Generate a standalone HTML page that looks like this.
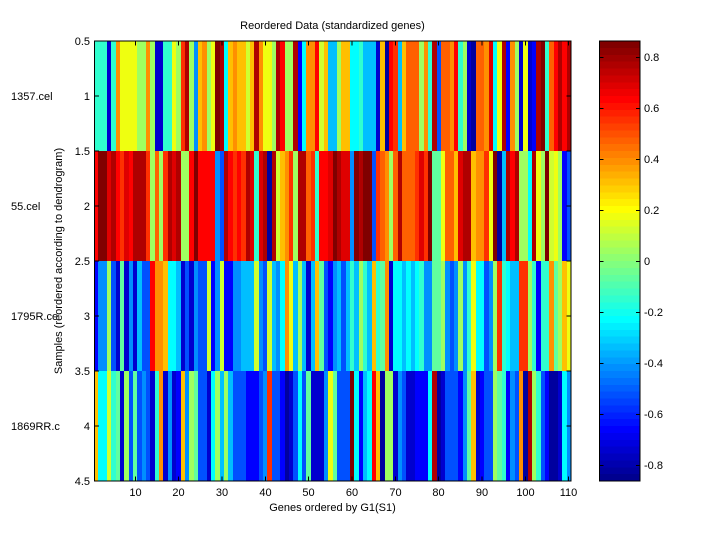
<!DOCTYPE html>
<html><head><meta charset="utf-8"><style>
html,body{margin:0;padding:0;background:#fff;width:720px;height:540px;overflow:hidden}
#hm{position:absolute;left:94px;top:41px;width:477px;height:440px;display:grid;grid-template-columns:repeat(110,1fr);grid-template-rows:repeat(4,1fr)}
#hm i{display:block}
.A{background:#00009F}.B{background:#0000CF}.C{background:#0000FF}.D{background:#0050FF}.E{background:#008FFF}
.F{background:#00BFFF}.G{background:#00FFFF}.H{background:#30FFCF}.I{background:#60FF9F}.J{background:#9FFF60}
.K{background:#CFFF30}.L{background:#EFFF10}.M{background:#FFBF00}.N{background:#FF8F00}.O{background:#FF6000}
.P{background:#FF3000}.Q{background:#FF0000}.R{background:#DF0000}.S{background:#AF0000}.T{background:#800000}
#cb{position:absolute;left:599px;top:41px;width:41px;height:440px;background:linear-gradient(#800000 0 1.5625%,#8F0000 0 3.125%,#9F0000 0 4.6875%,#AF0000 0 6.25%,#BF0000 0 7.8125%,#CF0000 0 9.375%,#DF0000 0 10.9375%,#EF0000 0 12.5%,#FF0000 0 14.0625%,#FF1000 0 15.625%,#FF2000 0 17.1875%,#FF3000 0 18.75%,#FF4000 0 20.3125%,#FF5000 0 21.875%,#FF6000 0 23.4375%,#FF7000 0 25%,#FF8000 0 26.5625%,#FF8F00 0 28.125%,#FF9F00 0 29.6875%,#FFAF00 0 31.25%,#FFBF00 0 32.8125%,#FFCF00 0 34.375%,#FFDF00 0 35.9375%,#FFEF00 0 37.5%,#FFFF00 0 39.0625%,#EFFF10 0 40.625%,#DFFF20 0 42.1875%,#CFFF30 0 43.75%,#BFFF40 0 45.3125%,#AFFF50 0 46.875%,#9FFF60 0 48.4375%,#8FFF70 0 50%,#80FF80 0 51.5625%,#70FF8F 0 53.125%,#60FF9F 0 54.6875%,#50FFAF 0 56.25%,#40FFBF 0 57.8125%,#30FFCF 0 59.375%,#20FFDF 0 60.9375%,#10FFEF 0 62.5%,#00FFFF 0 64.0625%,#00EFFF 0 65.625%,#00DFFF 0 67.1875%,#00CFFF 0 68.75%,#00BFFF 0 70.3125%,#00AFFF 0 71.875%,#009FFF 0 73.4375%,#008FFF 0 75%,#0080FF 0 76.5625%,#0070FF 0 78.125%,#0060FF 0 79.6875%,#0050FF 0 81.25%,#0040FF 0 82.8125%,#0030FF 0 84.375%,#0020FF 0 85.9375%,#0010FF 0 87.5%,#0000FF 0 89.0625%,#0000EF 0 90.625%,#0000DF 0 92.1875%,#0000CF 0 93.75%,#0000BF 0 95.3125%,#0000AF 0 96.875%,#00009F 0 98.4375%,#00008F 0 100%)}
svg{position:absolute;left:0;top:0}
text{font-family:"Liberation Sans",Arial,sans-serif;font-size:11px;fill:#000}
</style></head><body>
<div id="hm">
<i class=H></i><i class=H></i><i class=H></i><i class=B></i><i class=H></i><i class=N></i><i class=L></i><i class=L></i><i class=L></i><i class=L></i><i class=J></i><i class=J></i><i class=N></i><i class=J></i><i class=B></i><i class=B></i><i class=H></i><i class=H></i><i class=L></i><i class=J></i><i class=P></i><i class=S></i><i class=J></i><i class=E></i><i class=M></i><i class=N></i><i class=J></i><i class=L></i>
<i class=T></i><i class=S></i><i class=G></i><i class=M></i><i class=N></i><i class=M></i><i class=M></i><i class=K></i><i class=M></i><i class=S></i><i class=N></i><i class=L></i><i class=L></i><i class=J></i><i class=S></i><i class=Q></i><i class=J></i>
<i class=J></i><i class=S></i><i class=C></i><i class=G></i><i class=N></i><i class=N></i><i class=Q></i><i class=K></i><i class=M></i><i class=F></i><i class=F></i><i class=J></i><i class=M></i><i class=M></i><i class=G></i><i class=G></i>
<i class=H></i><i class=F></i><i class=F></i><i class=F></i><i class=B></i><i class=M></i><i class=A></i><i class=Q></i><i class=P></i><i class=F></i><i class=M></i><i class=O></i><i class=O></i><i class=O></i><i class=J></i><i class=N></i><i class=H></i><i class=S></i><i class=D></i><i class=O></i><i class=O></i><i class=N></i>
<i class=Q></i><i class=H></i><i class=J></i><i class=B></i><i class=A></i><i class=O></i><i class=O></i><i class=N></i><i class=R></i><i class=G></i><i class=L></i><i class=S></i><i class=C></i><i class=N></i><i class=J></i><i class=B></i><i class=L></i><i class=B></i><i class=C></i><i class=S></i><i class=T></i><i class=H></i><i class=O></i><i class=Q></i><i class=S></i><i class=Q></i><i class=S></i>

<i class=Q></i><i class=T></i><i class=T></i><i class=R></i><i class=S></i><i class=Q></i><i class=P></i><i class=R></i><i class=Q></i><i class=S></i><i class=S></i><i class=S></i><i class=P></i><i class=J></i><i class=O></i><i class=J></i><i class=P></i><i class=S></i><i class=R></i><i class=S></i><i class=J></i><i class=J></i><i class=Q></i><i class=T></i><i class=Q></i><i class=Q></i><i class=Q></i><i class=Q></i>
<i class=E></i><i class=D></i><i class=S></i><i class=Q></i><i class=P></i><i class=Q></i><i class=P></i><i class=S></i><i class=R></i><i class=H></i><i class=R></i><i class=S></i><i class=A></i><i class=S></i><i class=K></i><i class=M></i><i class=N></i>
<i class=P></i><i class=J></i><i class=S></i><i class=S></i><i class=O></i><i class=P></i><i class=H></i><i class=Q></i><i class=Q></i><i class=R></i><i class=T></i><i class=S></i><i class=R></i><i class=R></i><i class=E></i><i class=T></i>
<i class=S></i><i class=T></i><i class=T></i><i class=D></i><i class=P></i><i class=O></i><i class=N></i><i class=J></i><i class=O></i><i class=S></i><i class=O></i><i class=O></i><i class=O></i><i class=P></i><i class=R></i><i class=P></i><i class=T></i><i class=I></i><i class=I></i><i class=L></i><i class=O></i><i class=O></i>
<i class=M></i><i class=R></i><i class=S></i><i class=S></i><i class=M></i><i class=N></i><i class=N></i><i class=P></i><i class=L></i><i class=T></i><i class=A></i><i class=F></i><i class=S></i><i class=Q></i><i class=S></i><i class=J></i><i class=J></i><i class=G></i><i class=S></i><i class=L></i><i class=J></i><i class=T></i><i class=K></i><i class=L></i><i class=J></i><i class=C></i><i class=D></i>

<i class=C></i><i class=E></i><i class=E></i><i class=J></i><i class=D></i><i class=B></i><i class=I></i><i class=B></i><i class=E></i><i class=B></i><i class=F></i><i class=D></i><i class=D></i><i class=Q></i><i class=N></i><i class=N></i><i class=M></i><i class=G></i><i class=G></i><i class=F></i><i class=B></i><i class=D></i><i class=B></i><i class=E></i><i class=D></i><i class=D></i><i class=K></i><i class=C></i>
<i class=E></i><i class=K></i><i class=C></i><i class=C></i><i class=E></i><i class=E></i><i class=F></i><i class=F></i><i class=F></i><i class=K></i><i class=E></i><i class=D></i><i class=K></i><i class=F></i><i class=E></i><i class=G></i><i class=N></i>
<i class=L></i><i class=F></i><i class=J></i><i class=F></i><i class=B></i><i class=F></i><i class=M></i><i class=I></i><i class=D></i><i class=C></i><i class=E></i><i class=F></i><i class=D></i><i class=F></i><i class=H></i><i class=F></i>
<i class=J></i><i class=H></i><i class=F></i><i class=M></i><i class=H></i><i class=I></i><i class=N></i><i class=B></i><i class=G></i><i class=G></i><i class=F></i><i class=G></i><i class=F></i><i class=G></i><i class=H></i><i class=E></i><i class=E></i><i class=I></i><i class=I></i><i class=J></i><i class=E></i><i class=D></i>
<i class=E></i><i class=J></i><i class=E></i><i class=H></i><i class=L></i><i class=G></i><i class=G></i><i class=D></i><i class=E></i><i class=J></i><i class=P></i><i class=H></i><i class=G></i><i class=F></i><i class=F></i><i class=P></i><i class=P></i><i class=J></i><i class=H></i><i class=C></i><i class=H></i><i class=H></i><i class=N></i><i class=I></i><i class=J></i><i class=M></i><i class=L></i>

<i class=M></i><i class=G></i><i class=G></i><i class=K></i><i class=H></i><i class=I></i><i class=B></i><i class=J></i><i class=D></i><i class=I></i><i class=D></i><i class=E></i><i class=D></i><i class=B></i><i class=H></i><i class=N></i><i class=B></i><i class=E></i><i class=B></i><i class=C></i><i class=M></i><i class=E></i><i class=J></i><i class=I></i><i class=D></i><i class=D></i><i class=B></i><i class=G></i>
<i class=J></i><i class=F></i><i class=J></i><i class=F></i><i class=D></i><i class=D></i><i class=D></i><i class=C></i><i class=C></i><i class=C></i><i class=D></i><i class=E></i><i class=P></i><i class=D></i><i class=D></i><i class=C></i><i class=A></i>
<i class=B></i><i class=D></i><i class=G></i><i class=D></i><i class=I></i><i class=B></i><i class=B></i><i class=B></i><i class=E></i><i class=L></i><i class=I></i><i class=D></i><i class=D></i><i class=D></i><i class=T></i><i class=G></i>
<i class=C></i><i class=F></i><i class=G></i><i class=Q></i><i class=M></i><i class=A></i><i class=J></i><i class=J></i><i class=B></i><i class=E></i><i class=D></i><i class=B></i><i class=B></i><i class=C></i><i class=C></i><i class=C></i><i class=G></i><i class=S></i><i class=A></i><i class=B></i><i class=D></i><i class=D></i>
<i class=D></i><i class=C></i><i class=E></i><i class=I></i><i class=M></i><i class=B></i><i class=C></i><i class=D></i><i class=D></i><i class=J></i><i class=I></i><i class=H></i><i class=C></i><i class=E></i><i class=D></i><i class=N></i><i class=A></i><i class=S></i><i class=J></i><i class=H></i><i class=D></i><i class=C></i><i class=A></i><i class=A></i><i class=B></i><i class=G></i><i class=E></i>
</div>
<div id="cb"></div>
<svg width="720" height="540" viewBox="0 0 720 540">
<g stroke="#000" stroke-width="1" fill="none">
<rect x="94.5" y="41" width="476.5" height="440"/>
<path d="M94.5 96h4.5M94.5 151h4.5M94.5 206h4.5M94.5 261h4.5M94.5 316h4.5M94.5 371h4.5M94.5 426h4.5M571 96h-4.5M571 151h-4.5M571 206h-4.5M571 261h-4.5M571 316h-4.5M571 371h-4.5M571 426h-4.5"/>
<path d="M135.5 481v-4.5M178.5 481v-4.5M222 481v-4.5M265.5 481v-4.5M308.5 481v-4.5M352 481v-4.5M395.5 481v-4.5M438.5 481v-4.5M482 481v-4.5M525.5 481v-4.5M568.5 481v-4.5"/>
<path d="M135.5 41v4.5M178.5 41v4.5M222 41v4.5M265.5 41v4.5M308.5 41v4.5M352 41v4.5M395.5 41v4.5M438.5 41v4.5M482 41v4.5M525.5 41v4.5M568.5 41v4.5"/>
<rect x="599.5" y="41" width="40.5" height="440"/>
<path d="M599.5 57.5h4M599.5 108.5h4M599.5 159.5h4M599.5 210.5h4M599.5 261.5h4M599.5 312.5h4M599.5 363.5h4M599.5 414.5h4M599.5 465.5h4M640 57.5h-4M640 108.5h-4M640 159.5h-4M640 210.5h-4M640 261.5h-4M640 312.5h-4M640 363.5h-4M640 414.5h-4M640 465.5h-4"/>
</g>
<text x="332.5" y="29" text-anchor="middle">Reordered Data (standardized genes)</text>
<g text-anchor="end">
<text x="90" y="45">0.5</text>
<text x="90" y="100">1</text>
<text x="90" y="155">1.5</text>
<text x="90" y="210">2</text>
<text x="90" y="265">2.5</text>
<text x="90" y="320">3</text>
<text x="90" y="375">3.5</text>
<text x="90" y="430">4</text>
<text x="90" y="485">4.5</text>
</g>
<text x="11" y="100">1357.cel</text>
<text x="11" y="210">55.cel</text>
<text x="11" y="320">1795R.ce</text>
<text x="11" y="430">1869RR.c</text>
<text transform="translate(62,261) rotate(-90)" text-anchor="middle">Samples (reordered according to dendrogram)</text>
<g text-anchor="middle">
<text x="135.5" y="496">10</text>
<text x="178.5" y="496">20</text>
<text x="222" y="496">30</text>
<text x="265.5" y="496">40</text>
<text x="308.5" y="496">50</text>
<text x="352" y="496">60</text>
<text x="395.5" y="496">70</text>
<text x="438.5" y="496">80</text>
<text x="482" y="496">90</text>
<text x="525.5" y="496">100</text>
<text x="568.5" y="496">110</text>
<text x="332.5" y="511">Genes ordered by G1(S1)</text>
</g>
<g>
<text x="644" y="61">0.8</text>
<text x="644" y="112">0.6</text>
<text x="644" y="163">0.4</text>
<text x="644" y="214">0.2</text>
<text x="644" y="265">0</text>
<text x="644" y="316">-0.2</text>
<text x="644" y="367">-0.4</text>
<text x="644" y="418">-0.6</text>
<text x="644" y="469">-0.8</text>
</g>
</svg>
</body></html>
